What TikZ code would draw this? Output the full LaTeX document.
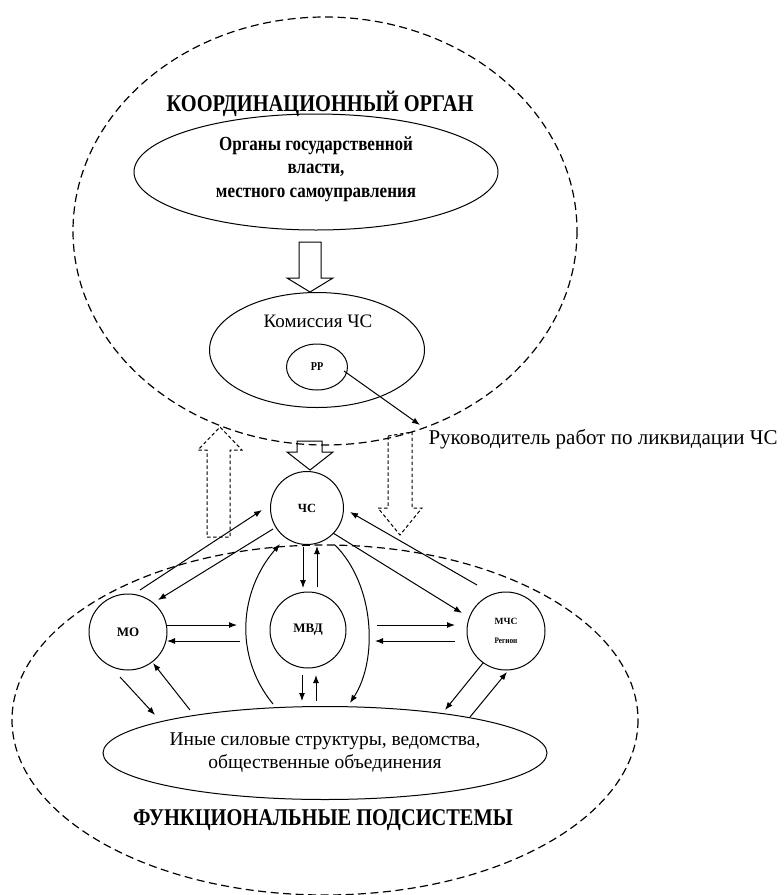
\documentclass[tikz,border=0pt]{standalone}
\usepackage{fontspec}
\setmainfont{Liberation Serif}
\newfontfamily\condfont{Liberation Serif}[FakeStretch=0.85]
\usetikzlibrary{shapes.geometric,arrows.meta}
\begin{document}
\begin{tikzpicture}[x=1pt,y=-1pt,
  dsh/.style={dashed,dash pattern=on 8pt off 4.5pt,line width=1.2pt},
  oval/.style={draw,ellipse,line width=1pt,inner sep=0pt},
  ring/.style={draw,ellipse,line width=1pt,inner sep=0pt},
  arr/.style={line width=1pt,-{Latex[length=8pt,width=6pt]}},
  blk/.style={draw,line width=1pt,line join=miter},
  dblk/.style={draw,line width=1pt,dashed,dash pattern=on 3.5pt off 2.5pt}]
\useasboundingbox (0,0) rectangle (784,895);

% big dashed ovals
\draw[dsh] (325,231) ellipse [x radius=252, y radius=214];
\draw[dsh] (325,720) ellipse [x radius=313, y radius=175];

% titles
\node[font=\condfont\bfseries\fontsize{24}{26}\selectfont] (t1) at (320,104) {КООРДИНАЦИОННЫЙ ОРГАН};
\node[font=\condfont\bfseries\fontsize{24}{26}\selectfont] (t2) at (323,820) {ФУНКЦИОНАЛЬНЫЕ ПОДСИСТЕМЫ};

% upper nodes
\node[oval,minimum width=364pt,minimum height=116pt] (org) at (316,172) {};
\node[font=\condfont\bfseries\fontsize{20}{23.5}\selectfont,align=center] (orgt) at (316,169)
  {Органы государственной\\власти,\\местного самоуправления};
\node[oval,minimum width=215pt,minimum height=115pt] (kom) at (317,350) {};
\node[font=\fontsize{19}{21}\selectfont] (komt) at (318,321) {Комиссия ЧС};
\node[ring,minimum width=61pt,minimum height=46pt,font=\condfont\bfseries\fontsize{12}{13}\selectfont] (pp) at (317,367) {РР};
\coordinate (ruk) at (420,425);
\node[anchor=west,font=\fontsize{21}{24}\selectfont] (rukt) at (425,439) {Руководитель работ по ликвидации ЧС};
\draw[arr] ([shift={(27,4)}]pp.center) -- (ruk);

% solid block arrow org -> kom
\draw[blk] (299,242) -- (321,242) -- (321,278) -- (333,278) -- (310,292) -- (287,278) -- (299,278) -- cycle;

% lower nodes
\node[ring,minimum width=73pt,minimum height=73pt,font=\bfseries\fontsize{12.5}{13}\selectfont] (chs) at (307,508) {ЧС};
\node[ring,minimum width=78pt,minimum height=76pt,font=\bfseries\fontsize{13}{14}\selectfont] (mo) at (128,632) {МО};
\node[ring,minimum width=76pt,minimum height=76pt,font=\bfseries\fontsize{13}{14}\selectfont] (mvd) at (308,630) {МВД};
\node[ring,minimum width=78pt,minimum height=78pt,align=center,font=\bfseries\fontsize{9.5}{19}\selectfont] (mchs) at (506,631) {МЧС\\{\condfont\fontsize{8.5}{9}\selectfont Регион}};
\node[oval,minimum width=444pt,minimum height=93pt,align=center,font=\fontsize{19.5}{23}\selectfont] (inye) at (325,753)
  {Иные силовые структуры, ведомства,\\общественные объединения};

% solid block arrow into ChS
\draw[blk] (297,441) -- (322,441) -- (322,452) -- (333,452) -- (310,470) -- (287,452) -- (297,452) -- cycle;

% dashed block arrows
\draw[dblk] (207,537) -- (230,537) -- (230,450) -- (242,450) -- (220,427) -- (198,450) -- (207,450) -- cycle;
\draw[dblk] (388,436) -- (412,432) -- (412,508) -- (422,508) -- (400,535) -- (378,508) -- (388,508) -- cycle;

% ChS <-> MO
\draw[arr] ([shift={(12,-42)}]mo.center) -- ([shift={(-45,2)}]chs.center);
\draw[arr] ([shift={(-34,21)}]chs.center) -- ([shift={(30,-32)}]mo.center);
% ChS <-> MChS
\draw[arr] ([shift={(26,25)}]chs.center) -- ([shift={(-44,-18)}]mchs.center);
\draw[arr] ([shift={(-29,-46)}]mchs.center) -- ([shift={(43,4)}]chs.center);
% ChS <-> MVD
\draw[arr] ([shift={(-4,39)}]chs.center) -- ([shift={(-5,-42)}]mvd.center);
\draw[arr] ([shift={(9,-43)}]mvd.center) -- ([shift={(10,38)}]chs.center);
% MO <-> MVD
\draw[arr] ([shift={(39,-7)}]mo.center) -- ([shift={(-71,-5)}]mvd.center);
\draw[arr] ([shift={(-68,11)}]mvd.center) -- ([shift={(39,9)}]mo.center);
% MVD <-> MChS
\draw[arr] ([shift={(69,-5)}]mvd.center) -- ([shift={(-51,-6)}]mchs.center);
\draw[arr] ([shift={(-51,10)}]mchs.center) -- ([shift={(67,11)}]mvd.center);
% curves
\draw[arr] ([shift={(-52,-49)}]inye.center) .. controls (233,655) and (240,590) .. ([shift={(-27,36)}]chs.center);
\draw[arr] ([shift={(28,37)}]chs.center) .. controls (375,585) and (378,660) .. ([shift={(25,-50)}]inye.center);
% MVD <-> Inye
\draw[arr] ([shift={(-6,45)}]mvd.center) -- ([shift={(-23,-52)}]inye.center);
\draw[arr] ([shift={(-9,-52)}]inye.center) -- ([shift={(8,45)}]mvd.center);
% MO <-> Inye
\draw[arr] ([shift={(-8,45)}]mo.center) -- ([shift={(-170,-38)}]inye.center);
\draw[arr] ([shift={(-135,-43)}]inye.center) -- ([shift={(25,31)}]mo.center);
% MChS <-> Inye
\draw[arr] ([shift={(-23,32)}]mchs.center) -- ([shift={(120,-43)}]inye.center);
\draw[arr] ([shift={(145,-36)}]inye.center) -- ([shift={(1,41)}]mchs.center);
\end{tikzpicture}
\end{document}
